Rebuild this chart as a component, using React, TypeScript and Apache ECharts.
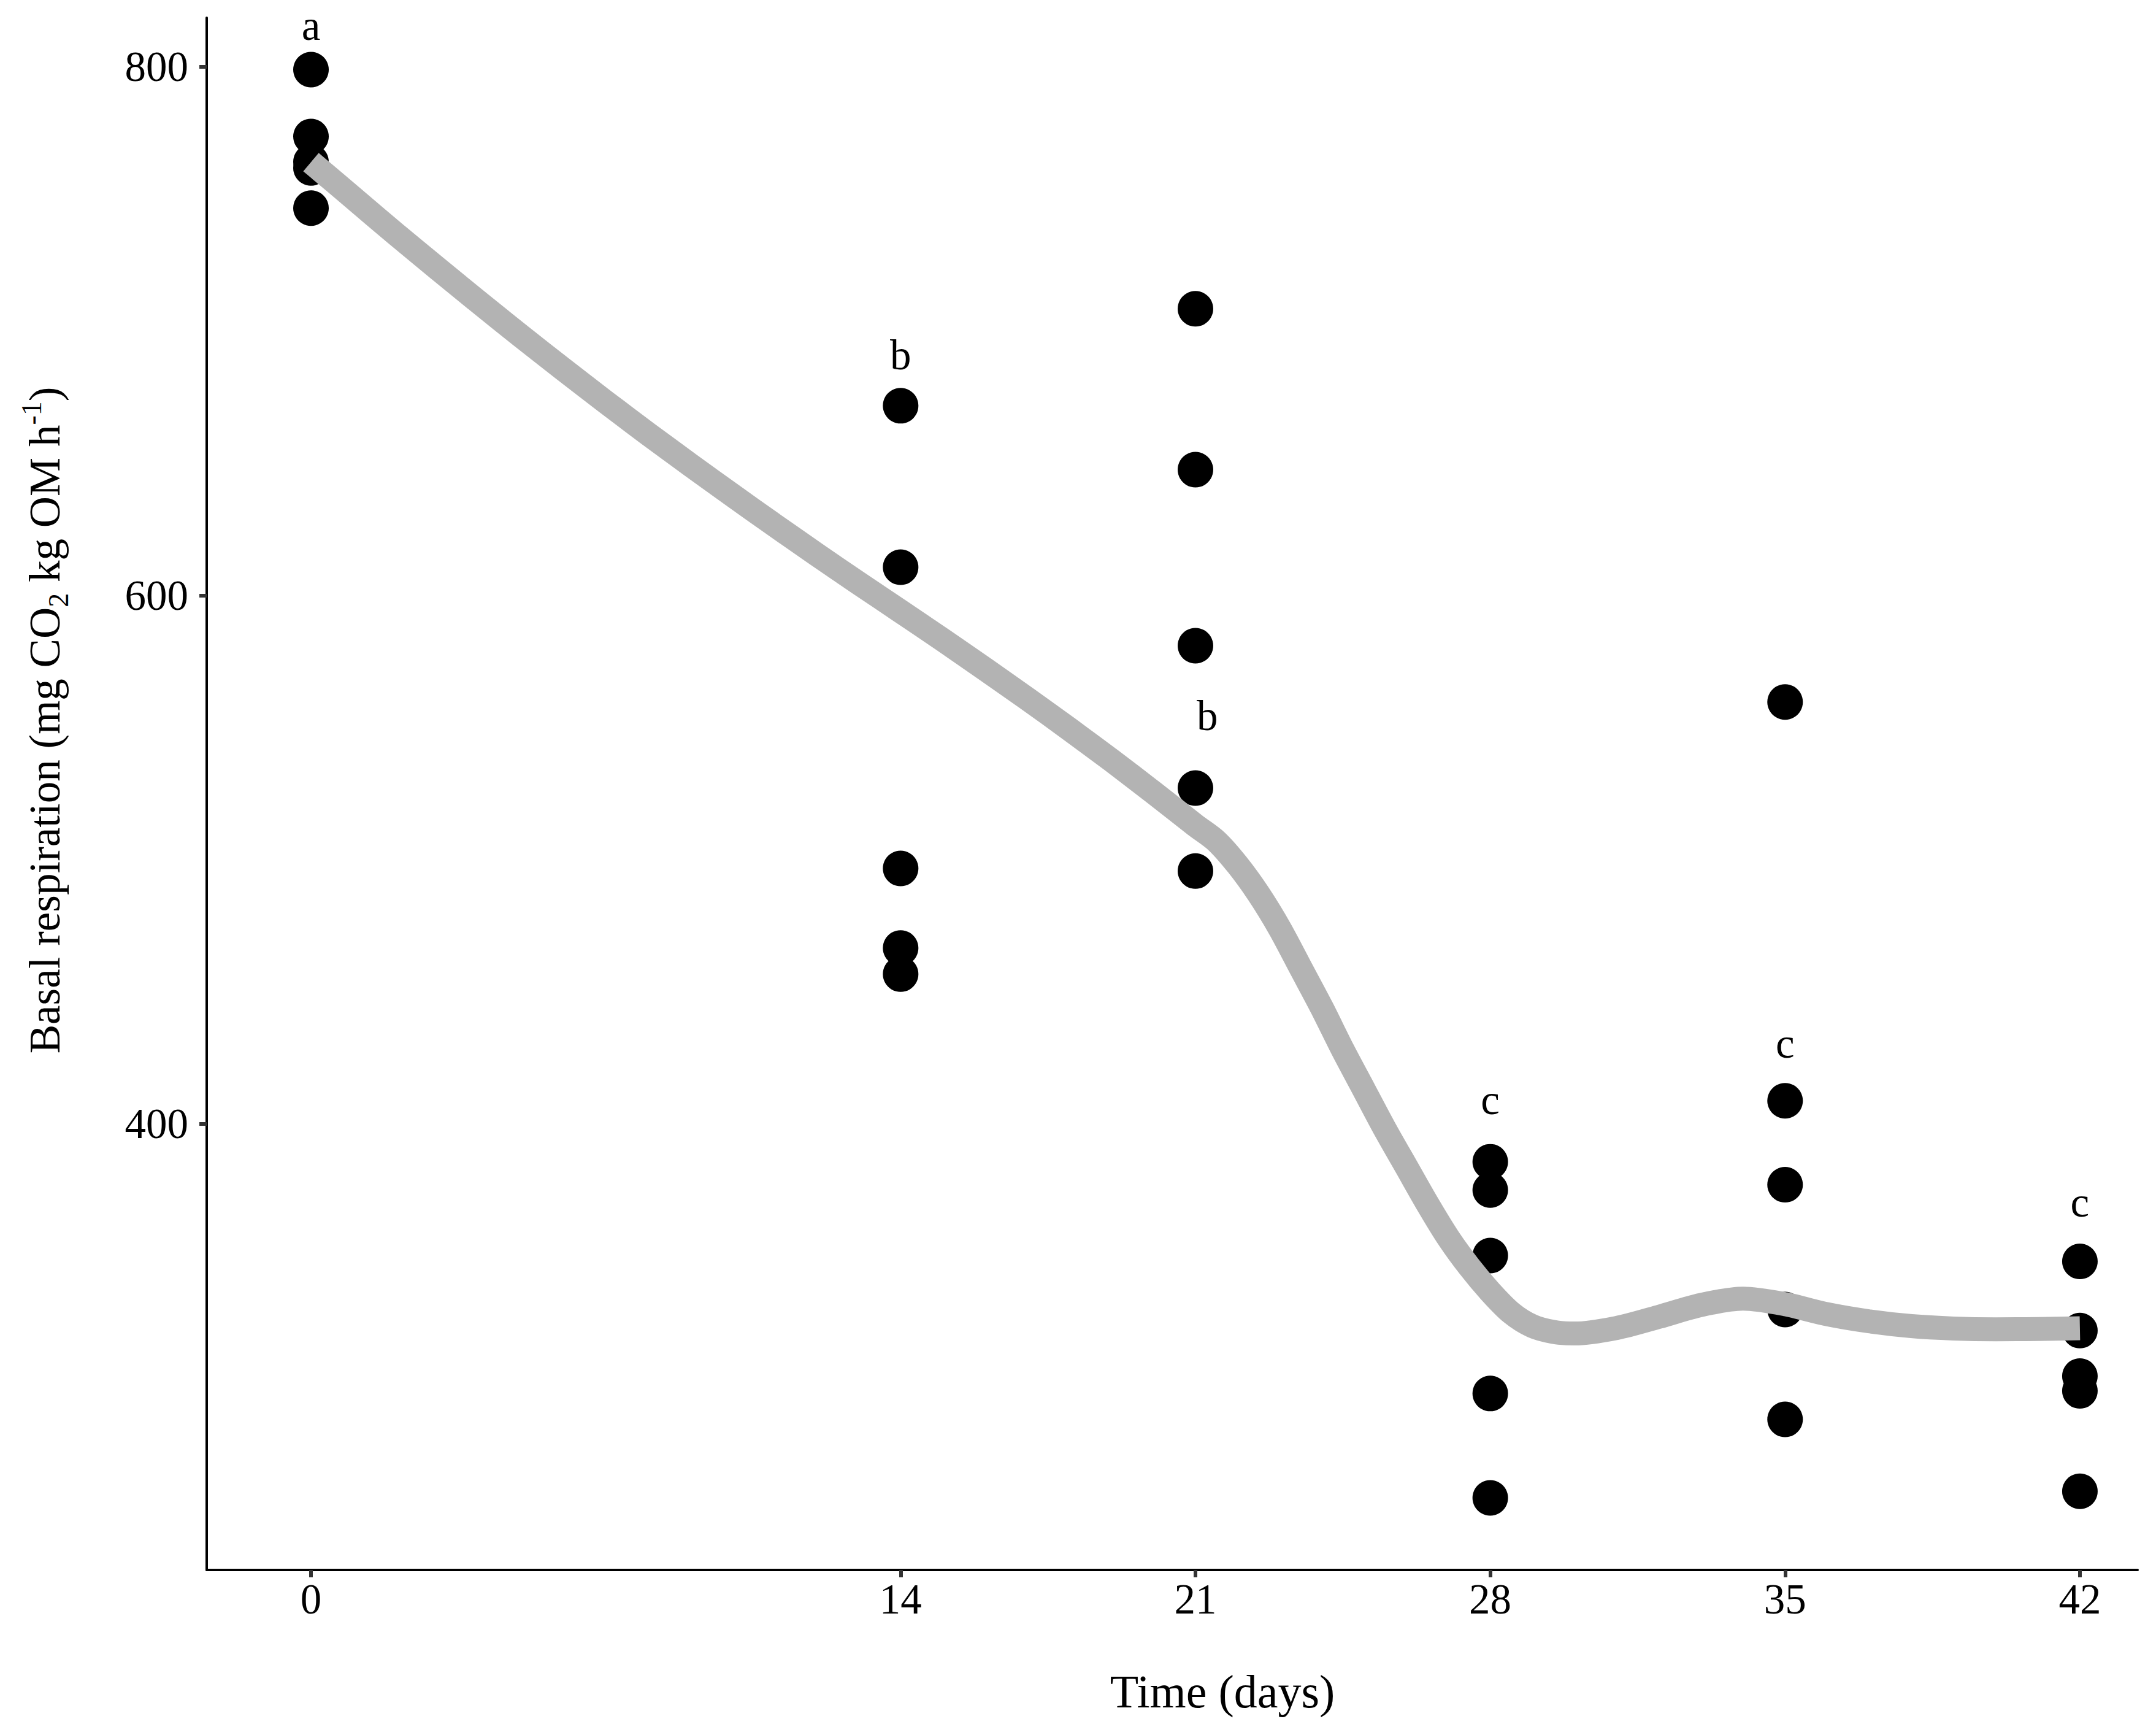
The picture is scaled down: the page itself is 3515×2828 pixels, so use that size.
import React, { useEffect, useRef } from 'react';
import * as echarts from 'echarts';

// Observed replicate values (day, basal respiration)
const pointDays = [
  0, 0, 0, 0, 0,
  14, 14, 14, 14, 14,
  21, 21, 21, 21, 21,
  28, 28, 28, 28, 28,
  35, 35, 35, 35, 35,
  42, 42, 42, 42, 42,
];
const pointValues = [
  799, 773.7, 764.1, 761.8, 746.6,
  671.8, 610.7, 496.7, 466.6, 456.7,
  708.5, 647.6, 581, 527.1, 495.7,
  385.7, 375, 350.2, 298, 258.5,
  559.7, 408.8, 377, 329.8, 288.2,
  348, 321.8, 304.6, 299, 261,
];

// Smoothed trend
const smoothDays = [
  0, 1, 2, 3, 4, 5, 6, 7, 8, 9, 10, 11, 12, 13, 14, 15, 16, 17, 18, 19, 20, 21,
  21.5, 22, 22.5, 23, 23.5, 24, 24.5, 25, 25.5, 26, 26.5, 27, 27.5, 28, 28.5, 29,
  29.5, 30, 31, 32, 33, 34, 35, 36, 37, 38, 39, 40, 41, 42,
];
const smoothValues = [
  764, 750.5, 737, 723.8, 710.8, 698, 685.5, 673.2, 661.2, 649.5, 638, 626.7, 615.6, 604.7,
  594, 583.2, 572.2, 561, 549.5, 537.7, 525.5, 513,
  507, 498, 487, 474, 459, 444, 428, 413, 398, 384, 370, 357, 346, 336.5, 328.5, 323.5,
  321.3, 320.7, 322.8, 327, 331.5, 333.9, 331.8, 328, 325.3, 323.5, 322.6, 322.3, 322.4, 322.7,
];

// Significance letters
const letterDays = [0, 14, 21.28, 28, 35, 42];
const letterValues = [815.7, 690.9, 554.5, 409, 430.4, 370.3];
const letterTexts = ['a', 'b', 'b', 'c', 'c', 'c'];

// Axis ticks
const xTicks = [0, 14, 21, 28, 35, 42];
const yTicks = [400, 600, 800];

const xTitle = 'Time (days)';
const yTitleRich = 'Basal respiration (mg CO{sub|2} kg OM h{sup|-1})';

const FONT = 'Liberation Serif';

export default function App() {
  const ref = useRef<HTMLDivElement>(null);

  useEffect(() => {
    document.body.style.margin = '0';
    if (!ref.current) return;
    const chart = echarts.init(ref.current, undefined, { renderer: 'svg' });

    const points = pointDays.map((d, i) => [d, pointValues[i]]);
    const smooth = smoothDays.map((d, i) => [d, smoothValues[i]]);
    const letters = letterDays.map((d, i) => ({ value: [d, letterValues[i]], name: letterTexts[i] }));

    chart.setOption({
      animation: false,
      backgroundColor: '#ffffff',
      grid: { left: 337, right: 30, top: 29, bottom: 269, containLabel: false },
      xAxis: {
        type: 'value',
        min: -2.476,
        max: 43.37,
        splitLine: { show: false },
        axisLine: { show: true, onZero: false, lineStyle: { color: '#000000', width: 4 } },
        axisTick: { show: true, length: 12, customValues: xTicks, lineStyle: { color: '#333333', width: 6 } },
        axisLabel: {
          customValues: xTicks,
          fontFamily: FONT,
          fontSize: 69,
          color: '#000000',
          margin: 13,
        },
      },
      yAxis: {
        type: 'value',
        min: 231.22,
        max: 818.62,
        splitLine: { show: false },
        axisLine: { show: true, onZero: false, lineStyle: { color: '#000000', width: 4 } },
        axisTick: { show: true, length: 12, customValues: yTicks, lineStyle: { color: '#333333', width: 6 } },
        axisLabel: {
          customValues: yTicks,
          fontFamily: FONT,
          fontSize: 69,
          color: '#000000',
          margin: 30,
        },
      },
      graphic: [
        {
          type: 'text',
          x: 1993,
          y: 2757,
          style: {
            text: xTitle,
            fontFamily: FONT,
            fontSize: 76,
            fill: '#000000',
            align: 'center',
            verticalAlign: 'middle',
          },
        },
        {
          type: 'text',
          x: 73,
          y: 1174,
          rotation: Math.PI / 2,
          style: {
            text: yTitleRich,
            fontFamily: FONT,
            fontSize: 71,
            lineHeight: 90,
            fill: '#000000',
            align: 'center',
            verticalAlign: 'middle',
            rich: {
              sub: { fontFamily: FONT, fontSize: 46, lineHeight: 51, verticalAlign: 'bottom', fill: '#000000' },
              sup: { fontFamily: FONT, fontSize: 46, lineHeight: 53, verticalAlign: 'top', fill: '#000000' },
            },
          },
        },
      ],
      series: [
        {
          type: 'scatter',
          data: points,
          symbol: 'circle',
          symbolSize: 58,
          itemStyle: { color: '#000000', opacity: 1 },
          z: 2,
          silent: true,
        },
        {
          type: 'line',
          data: smooth,
          showSymbol: false,
          symbol: 'none',
          smooth: 0.3,
          lineStyle: { color: '#b3b3b3', width: 39, cap: 'butt', join: 'round', opacity: 1 },
          z: 3,
          silent: true,
        },
        {
          type: 'scatter',
          data: letters,
          symbolSize: 1,
          itemStyle: { color: 'rgba(0,0,0,0)' },
          label: {
            show: true,
            position: 'inside',
            formatter: (p: any) => p.name,
            fontFamily: FONT,
            fontSize: 69,
            color: '#000000',
            opacity: 1,
          },
          z: 4,
          silent: true,
        },
      ],
    });

    return () => {
      chart.dispose();
    };
  }, []);

  return <div ref={ref} style={{ width: 3515, height: 2828 }} />;
}
